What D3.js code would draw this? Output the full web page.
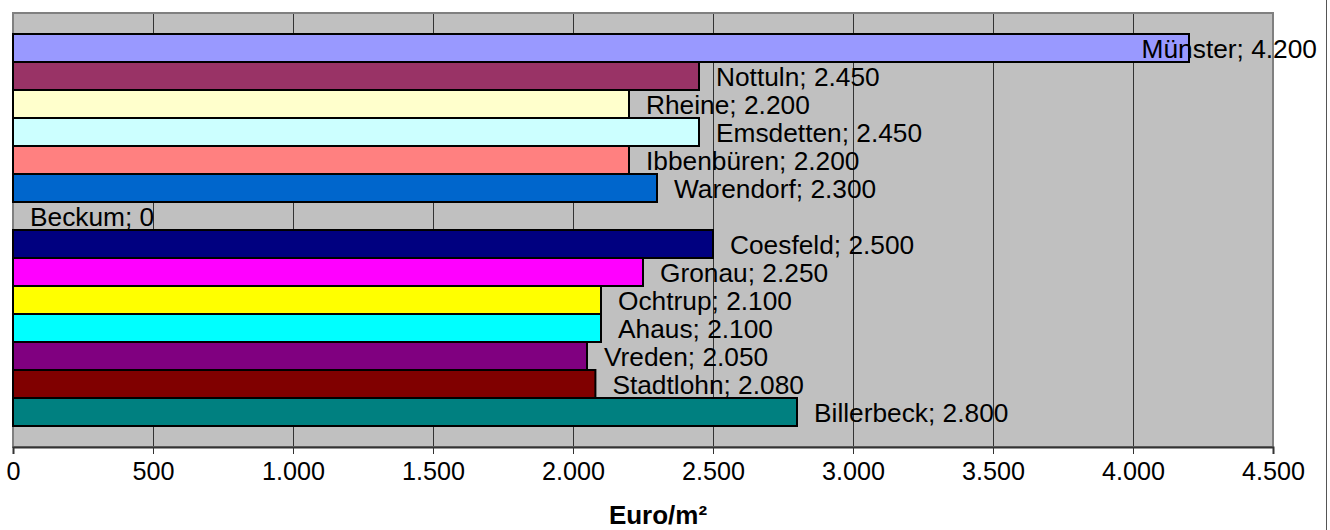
<!DOCTYPE html>
<html>
<head>
<meta charset="utf-8">
<script src="https://cdn.jsdelivr.net/npm/d3@7"></script>
<style>
  html, body { margin: 0; padding: 0; background: #ffffff; }
  svg { display: block; font-family: Arial, "Liberation Sans", sans-serif; }
</style>
</head>
<body>
<svg id="chart" width="1330" height="530"></svg>
<script>
// Baulandpreise je Stadt (Euro/m²)
const cities = ["Münster", "Nottuln", "Rheine", "Emsdetten", "Ibbenbüren", "Warendorf", "Beckum",
                "Coesfeld", "Gronau", "Ochtrup", "Ahaus", "Vreden", "Stadtlohn", "Billerbeck"];
const prices = [4200, 2450, 2200, 2450, 2200, 2300, 0, 2500, 2250, 2100, 2100, 2050, 2080, 2800];
const barColors = ["#9999FF", "#993366", "#FFFFCC", "#CCFFFF", "#FF8080", "#0066CC", "#CCCCFF",
                   "#000080", "#FF00FF", "#FFFF00", "#00FFFF", "#800080", "#800000", "#008080"];
const tickValues = [0, 500, 1000, 1500, 2000, 2500, 3000, 3500, 4000, 4500];
const axisTitle = "Euro/m²";

const svg = d3.select("#chart");
const plot = { left: 13, right: 1273, top: 13, bottom: 447 };

const fmt = v => d3.format(",")(v).replace(/,/g, ".");

const x = d3.scaleLinear().domain([0, 4500]).range([plot.left, plot.right]);
const y = d3.scaleBand().domain(cities).range([plot.top, plot.bottom])
  .paddingInner(0).paddingOuter(0.75);

// plot background
svg.append("rect")
  .attr("x", plot.left).attr("y", plot.top)
  .attr("width", plot.right - plot.left).attr("height", plot.bottom - plot.top)
  .attr("fill", "#C0C0C0");

// vertical gridlines
svg.append("g").selectAll("line")
  .data(tickValues.filter(v => v > 0 && v < 4500))
  .join("line")
  .attr("x1", d => x(d)).attr("x2", d => x(d))
  .attr("y1", plot.top).attr("y2", plot.bottom)
  .attr("stroke", "#333333").attr("stroke-width", 1)
  .attr("shape-rendering", "crispEdges");

// plot frame
svg.append("rect")
  .attr("x", plot.left).attr("y", plot.top)
  .attr("width", plot.right - plot.left).attr("height", plot.bottom - plot.top)
  .attr("fill", "none").attr("stroke", "#808080").attr("stroke-width", 2);

// bars
svg.append("g").selectAll("rect")
  .data(cities.map((c, i) => ({ city: c, value: prices[i], color: barColors[i] })).filter(d => d.value > 0))
  .join("rect")
  .attr("x", x(0))
  .attr("y", d => y(d.city))
  .attr("width", d => x(d.value) - x(0))
  .attr("height", y.bandwidth())
  .attr("fill", d => d.color)
  .attr("stroke", "#000000").attr("stroke-width", 2);

// x axis
const xAxis = d3.axisBottom(x).tickValues(tickValues).tickFormat(fmt).tickSize(7).tickPadding(8);
const gx = svg.append("g").attr("transform", `translate(0,${plot.bottom})`).call(xAxis);
gx.select(".domain").attr("stroke", "#333333").attr("stroke-width", 2);
gx.selectAll(".tick line").attr("stroke", "#333333");
gx.selectAll(".tick text").attr("font-size", 25.2).attr("fill", "#000")
  .attr("font-family", "Arial, 'Liberation Sans', sans-serif");

// value labels
const labelLayer = svg.append("g");
cities.forEach((c, i) => {
  const t = labelLayer.append("text")
    .attr("font-size", 26.3)
    .attr("fill", "#000")
    .attr("y", y(c) + y.bandwidth() / 2 + 9.5)
    .text(`${c}; ${fmt(prices[i])}`);
  const w = t.node().getComputedTextLength();
  const xStart = Math.min(x(prices[i]) + 17, 1317 - w);
  t.attr("x", xStart);
});

// axis title
svg.append("text")
  .attr("x", 658).attr("y", 524)
  .attr("text-anchor", "middle")
  .attr("font-size", 26).attr("font-weight", "bold")
  .text(axisTitle);

// chart area edge
svg.append("line")
  .attr("x1", 1326.5).attr("x2", 1326.5).attr("y1", 0).attr("y2", 530)
  .attr("stroke", "#555555").attr("stroke-width", 1);
</script>
</body>
</html>
